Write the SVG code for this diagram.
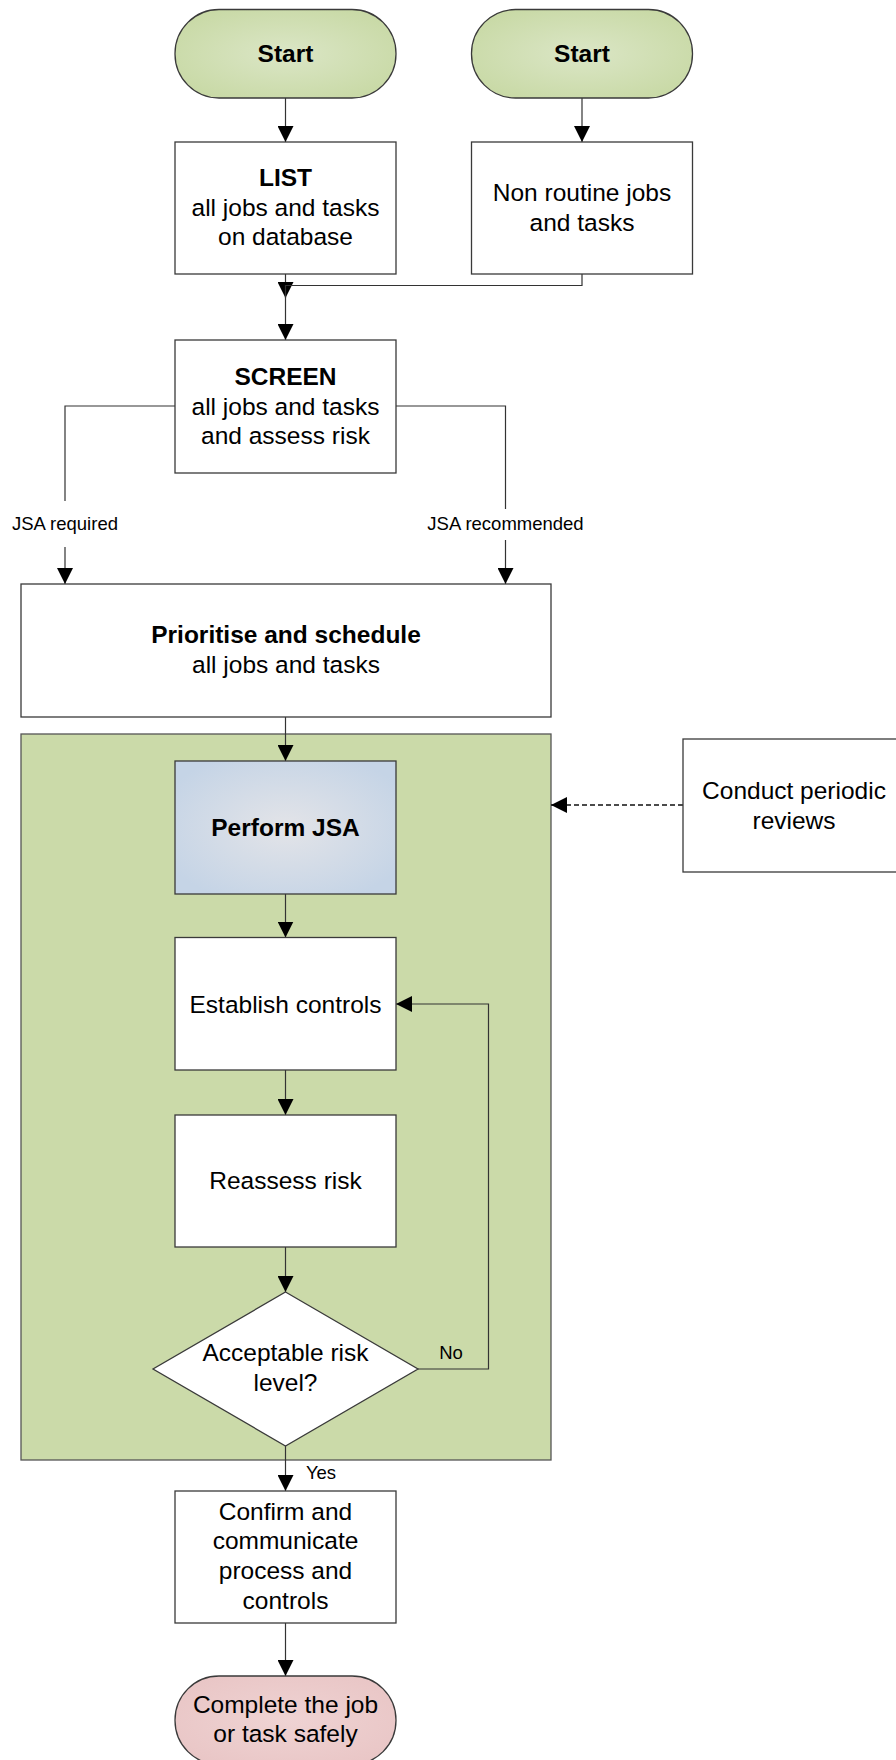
<svg xmlns="http://www.w3.org/2000/svg" width="896" height="1760" viewBox="0 0 896 1760">
<defs>
<marker id="arr" viewBox="0 0 16 16" markerWidth="16" markerHeight="16" markerUnits="userSpaceOnUse" refX="16" refY="8" orient="auto">
<path d="M0,0 L16,8 L0,16 z" fill="#000"/>
</marker>
<radialGradient id="gStart" cx="50%" cy="50%" r="60%">
<stop offset="0" stop-color="#dbe6c6"/>
<stop offset="1" stop-color="#c8d9a5"/>
</radialGradient>
<radialGradient id="gJsa" cx="50%" cy="50%" r="60%">
<stop offset="0" stop-color="#e3e4e8"/>
<stop offset="1" stop-color="#c5d4e6"/>
</radialGradient>
<radialGradient id="gEnd" cx="50%" cy="50%" r="60%">
<stop offset="0" stop-color="#efd3d3"/>
<stop offset="1" stop-color="#e9c6c6"/>
</radialGradient>
</defs>
<style>
.box{fill:#fff;stroke:#3a3a3a;stroke-width:1.3}
.t{font-family:"Liberation Sans",Arial,sans-serif;font-size:24.5px;fill:#000;text-anchor:middle}
.b{font-weight:bold}
.lbl{font-family:"Liberation Sans",Arial,sans-serif;font-size:18.5px;fill:#000;text-anchor:middle}
.c{fill:none;stroke:#333;stroke-width:1.2}
.d{fill:none;stroke:#111;stroke-width:1.3;stroke-dasharray:5,3}
</style>
<rect width="896" height="1760" fill="#fff"/>

<g id="container">
<rect x="21" y="734" width="530" height="726" fill="#cbdaa9" stroke="#555" stroke-width="1.3"/>
</g>

<g id="connectors">
<path class="c" d="M285.5,98 V142" marker-end="url(#arr)"/>
<path class="c" d="M582,98 V142" marker-end="url(#arr)"/>
<path class="c" d="M285.5,274 V298" marker-end="url(#arr)"/>
<path class="c" d="M582,274 V285.5 H285.5 V340" marker-end="url(#arr)"/>
<path class="c" d="M175,406 H65 V584" marker-end="url(#arr)"/>
<path class="c" d="M396,406 H505.5 V584" marker-end="url(#arr)"/>
<path class="c" d="M285.5,717 V761" marker-end="url(#arr)"/>
<path class="c" d="M285.5,894 V937.5" marker-end="url(#arr)"/>
<path class="c" d="M285.5,1070 V1115" marker-end="url(#arr)"/>
<path class="c" d="M285.5,1247 V1292" marker-end="url(#arr)"/>
<path class="c" d="M418,1369 H488.5 V1004 H396" marker-end="url(#arr)"/>
<path class="c" d="M285.5,1446 V1491" marker-end="url(#arr)"/>
<path class="c" d="M285.5,1623 V1676" marker-end="url(#arr)"/>
<path class="d" d="M683,805 H551" marker-end="url(#arr)"/>
<rect x="6" y="501" width="118" height="46" fill="#fff"/>
<text class="lbl" x="65" y="529.5">JSA required</text>
<rect x="422" y="509" width="168" height="31" fill="#fff"/>
<text class="lbl" x="505.5" y="529.5">JSA recommended</text>
<text class="lbl" x="451" y="1359">No</text>
<text class="lbl" x="321" y="1479">Yes</text>
</g>

<g id="start1">
<rect x="175" y="9.5" width="221" height="88.5" rx="44" ry="44" fill="url(#gStart)" stroke="#3a3a3a" stroke-width="1.3"/>
<text class="t b" x="285.5" y="62">Start</text>
</g>
<g id="start2">
<rect x="471.5" y="9.5" width="221" height="88.5" rx="44" ry="44" fill="url(#gStart)" stroke="#3a3a3a" stroke-width="1.3"/>
<text class="t b" x="582" y="62">Start</text>
</g>

<g id="list">
<rect class="box" x="175" y="142" width="221" height="132"/>
<text class="t b" x="285.5" y="186">LIST</text>
<text class="t" x="285.5" y="215.5">all jobs and tasks</text>
<text class="t" x="285.5" y="245">on database</text>
</g>
<g id="nonroutine">
<rect class="box" x="471.5" y="142" width="221" height="132"/>
<text class="t" x="582" y="200.5">Non routine jobs</text>
<text class="t" x="582" y="230.5">and tasks</text>
</g>

<g id="screen">
<rect class="box" x="175" y="340" width="221" height="133"/>
<text class="t b" x="285.5" y="384.5">SCREEN</text>
<text class="t" x="285.5" y="414.5">all jobs and tasks</text>
<text class="t" x="285.5" y="444">and assess risk</text>
</g>

<g id="prioritise">
<rect class="box" x="21" y="584" width="530" height="133"/>
<text class="t b" x="286" y="643">Prioritise and schedule</text>
<text class="t" x="286" y="672.5">all jobs and tasks</text>
</g>

<g id="performjsa">
<rect x="175" y="761" width="221" height="133" fill="url(#gJsa)" stroke="#3a3a3a" stroke-width="1.3"/>
<text class="t b" x="285.5" y="835.5">Perform JSA</text>
</g>

<g id="conduct">
<rect class="box" x="683" y="739" width="221" height="133"/>
<text class="t" x="794" y="799">Conduct periodic</text>
<text class="t" x="794" y="828.5">reviews</text>
</g>

<g id="establish">
<rect class="box" x="175" y="937.5" width="221" height="132.5"/>
<text class="t" x="285.5" y="1012.5">Establish controls</text>
</g>

<g id="reassess">
<rect class="box" x="175" y="1115" width="221" height="132"/>
<text class="t" x="285.5" y="1189">Reassess risk</text>
</g>

<g id="decision">
<polygon class="box" points="285.5,1292 418,1369 285.5,1446 153,1369"/>
<text class="t" x="285.5" y="1361">Acceptable risk</text>
<text class="t" x="285.5" y="1391">level?</text>
</g>

<g id="confirm">
<rect class="box" x="175" y="1491" width="221" height="132"/>
<text class="t" x="285.5" y="1519.5">Confirm and</text>
<text class="t" x="285.5" y="1549">communicate</text>
<text class="t" x="285.5" y="1579">process and</text>
<text class="t" x="285.5" y="1608.5">controls</text>
</g>

<g id="complete">
<rect x="175" y="1676" width="221" height="88.5" rx="44" ry="44" fill="url(#gEnd)" stroke="#3a3a3a" stroke-width="1.3"/>
<text class="t" x="285.5" y="1712.5">Complete the job</text>
<text class="t" x="285.5" y="1742">or task safely</text>
</g>
</svg>
